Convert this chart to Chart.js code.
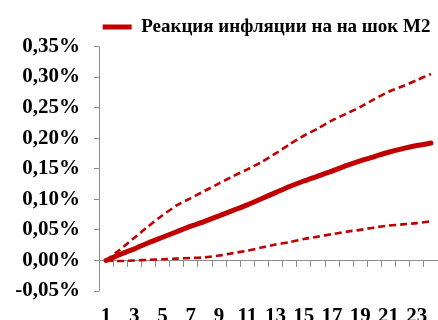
<!DOCTYPE html>
<html>
<head>
<meta charset="utf-8">
<script src="https://cdn.jsdelivr.net/npm/chart.js@4/dist/chart.umd.min.js"></script>
<style>
  html, body { margin: 0; padding: 0; background: #ffffff; }
  #wrap { width: 438px; height: 320px; }
</style>
</head>
<body>
<div id="wrap"><canvas id="chart" width="438" height="320"></canvas></div>
<script>
// Months after the M2 shock
const periods = ['1','2','3','4','5','6','7','8','9','10','11','12',
                 '13','14','15','16','17','18','19','20','21','22','23','24'];

// Inflation response, % (central estimate)
const responseM2 = [0, 0.010, 0.019, 0.029, 0.038, 0.047, 0.056, 0.064, 0.073, 0.082, 0.091, 0.101,
                    0.111, 0.121, 0.130, 0.138, 0.146, 0.155, 0.163, 0.170, 0.177, 0.183, 0.188, 0.192];

// Confidence band, %
const upperBand = [0, 0.018, 0.037, 0.056, 0.074, 0.090, 0.102, 0.114, 0.126, 0.138, 0.149, 0.161,
                   0.175, 0.190, 0.204, 0.216, 0.229, 0.240, 0.251, 0.264, 0.276, 0.285, 0.295, 0.305];
const lowerBand = [0, -0.001, 0.000, 0.001, 0.002, 0.003, 0.004, 0.005, 0.008, 0.012, 0.016, 0.021,
                   0.026, 0.030, 0.035, 0.039, 0.043, 0.047, 0.050, 0.054, 0.057, 0.059, 0.061, 0.064];

// Value axis
const yMin = -0.05;
const yMax = 0.35;
const yStep = 0.05;

const RED = '#C00000';
const AXIS = '#8c8c8c';
const serif = "'Liberation Serif', 'Times New Roman', serif";

new Chart(document.getElementById('chart'), {
  type: 'line',
  data: {
    labels: periods,
    datasets: [
      {
        label: 'Реакция инфляции на на шок М2',
        data: responseM2,
        borderColor: RED,
        backgroundColor: RED,
        borderWidth: 5,
        pointRadius: 0,
        tension: 0.2,
        borderCapStyle: 'round'
      },
      {
        label: 'Верхняя граница',
        data: upperBand,
        borderColor: RED,
        borderWidth: 2.6,
        borderDash: [7, 4],
        pointRadius: 0,
        tension: 0.2
      },
      {
        label: 'Нижняя граница',
        data: lowerBand,
        borderColor: RED,
        borderWidth: 2.6,
        borderDash: [7, 4],
        pointRadius: 0,
        tension: 0.2
      }
    ]
  },
  options: {
    responsive: false,
    devicePixelRatio: 1,
    animation: false,
    layout: { padding: { top: 10, right: 0, bottom: 29, left: 0 } },
    plugins: {
      tooltip: { enabled: false },
      legend: {
        position: 'top',
        align: 'end',
        labels: {
          filter: (item) => item.datasetIndex === 0,
          usePointStyle: true,
          pointStyle: 'line',
          pointStyleWidth: 29,
          padding: 7.5,
          color: '#000000',
          font: { family: serif, size: 19, weight: 'bold' }
        }
      }
    },
    scales: {
      x: {
        position: { y: 0 },
        offset: true,
        // the axis sits on the zero line; labels hang below the plot,
        // so the label gap must not eat into the plot width
        afterFit: (scale) => { scale.paddingLeft = 0; scale.paddingRight = 0; },
        grid: {
          offset: true,
          drawOnChartArea: true,
          // only the left boundary line is visible: it serves as the value axis line
          color: (ctx) => (ctx.index === 0 ? AXIS : 'rgba(0,0,0,0)'),
          tickColor: AXIS,
          drawTicks: true,
          tickLength: 6
        },
        border: { color: AXIS, width: 1 },
        ticks: {
          autoSkip: false,
          maxRotation: 0,
          padding: 38,
          color: '#000000',
          font: { family: serif, size: 21, weight: 'bold' },
          callback: (value, index) => (index % 2 === 0 ? periods[index] : '')
        }
      },
      y: {
        min: yMin,
        max: yMax,
        afterFit: (scale) => { scale.width = 99; },
        grid: {
          drawOnChartArea: false,
          drawTicks: true,
          tickLength: 5,
          color: AXIS
        },
        border: { display: false },
        ticks: {
          stepSize: yStep,
          padding: 14,
          color: '#000000',
          font: { family: serif, size: 21, weight: 'bold' },
          callback: (value) => (Math.round(value * 100) / 100).toFixed(2).replace('.', ',') + '%'
        }
      }
    }
  }
});
</script>
</body>
</html>
